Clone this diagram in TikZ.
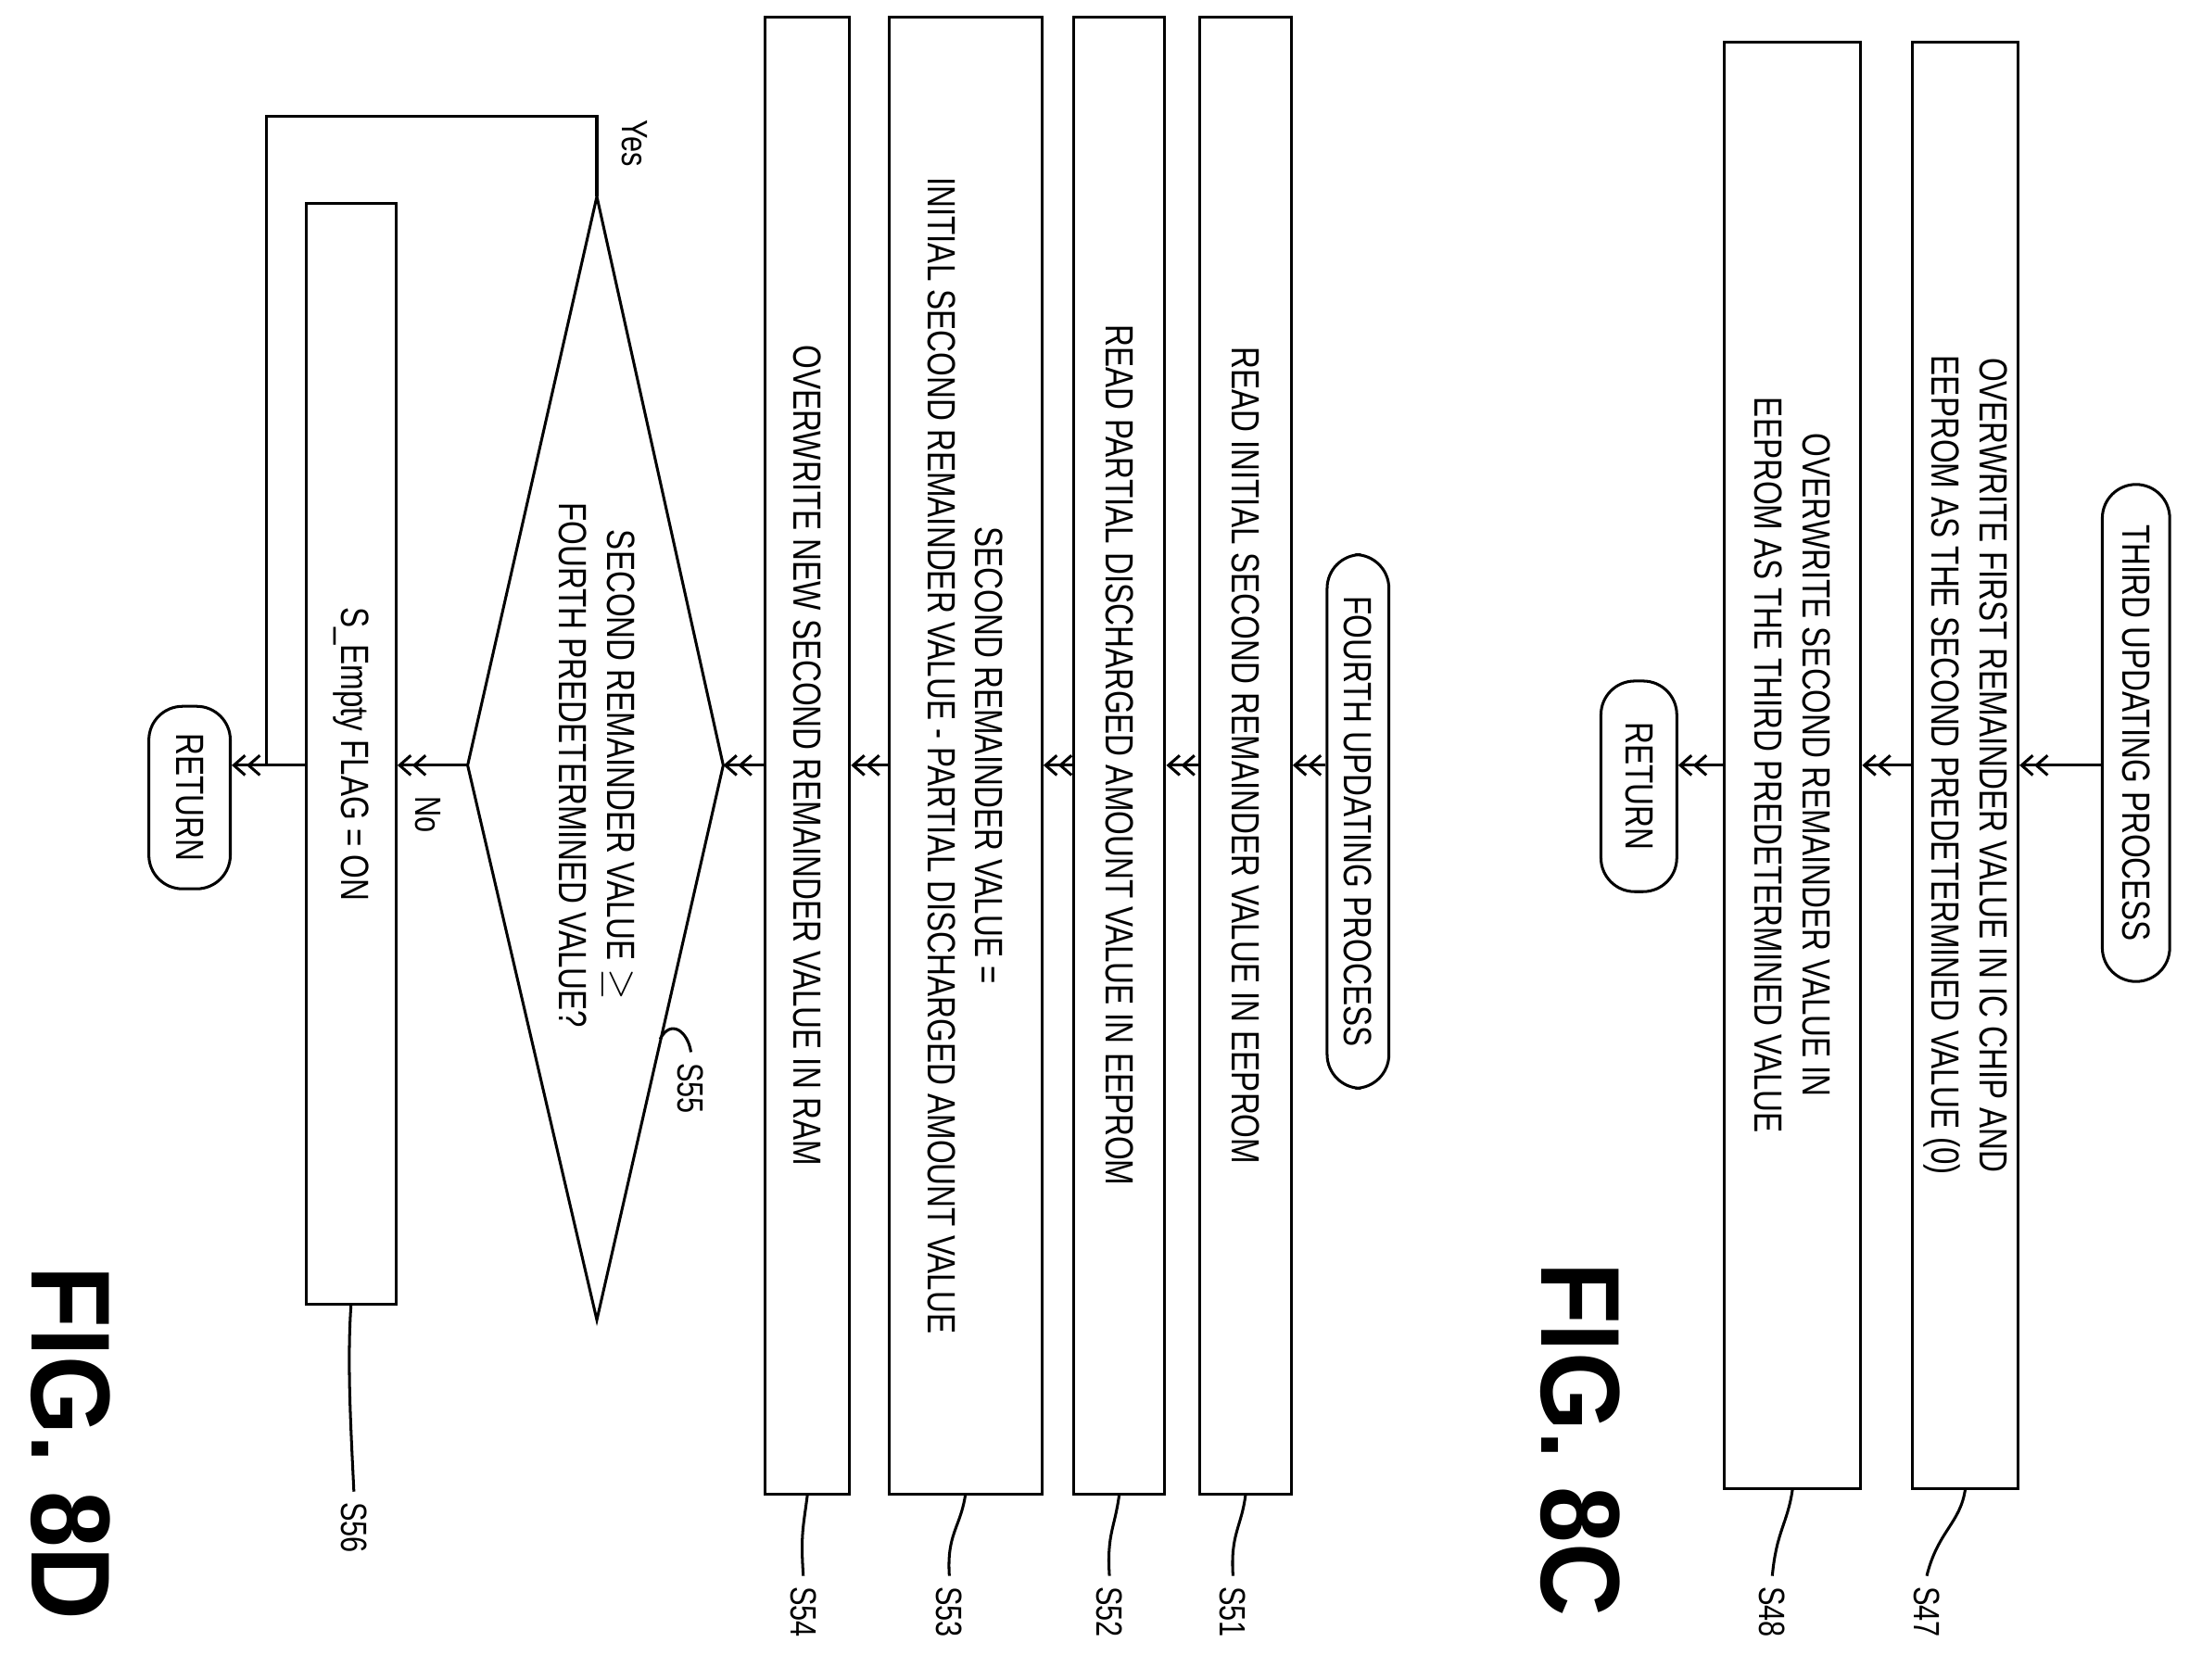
\documentclass[tikz,border=0pt]{standalone}
\usepackage{fontspec}
\setmainfont{Liberation Sans}[FakeStretch=0.78]
\newfontfamily\figfont{Liberation Sans}[FakeStretch=0.9]
\usetikzlibrary{arrows.meta}
\begin{document}
\begin{tikzpicture}[x=0.5pt,y=-0.5pt,line width=1pt,
  txt/.style={font=\fontsize{14}{17}\selectfont,rotate=-90,align=center},
  box/.style={txt,draw,rectangle,inner sep=2pt},
  term/.style={txt,draw,rounded corners=12pt,inner sep=3pt},
  arr/.style={-{Straight Barb[length=4pt,width=7pt]Straight Barb[length=4pt,width=7pt]}},
  lab/.style={font=\fontsize{13}{15}\selectfont,rotate=-90},
  fig/.style={font=\figfont\bfseries\fontsize{40}{44}\selectfont,rotate=-90,inner sep=0pt}]
\useasboundingbox (0,0) rectangle (1568,1196);
% ---- FIG 8C ----
\node[term,minimum width=177pt,minimum height=24pt] (t1) at (1521,522) {THIRD UPDATING PROCESS};
\node[box,minimum width=515pt,minimum height=37.5pt] (s47) at (1399.5,545) {OVERWRITE FIRST REMAINDER VALUE IN IC CHIP AND\\EEPROM AS THE SECOND PREDETERMINED VALUE (0)};
\node[box,minimum width=515pt,minimum height=48.5pt] (s48) at (1276.5,545) {OVERWRITE SECOND REMAINDER VALUE IN\\EEPROM AS THE THIRD PREDETERMINED VALUE};
\node[term,minimum width=75pt,minimum height=27pt] (r1) at (1167,560) {RETURN};
\draw[arr] (t1.south |- 0,545) -- (s47.north);
\draw[arr] (s47.south) -- (s48.north);
\draw[arr] (s48.south) -- (r1.north |- 0,545);
\node[fig] (f8c) at (1125,1025) {FIG. 8C};
\node[lab] (l47) at (1372,1148) {S47};
\node[lab] (l48) at (1262,1148) {S48};
\draw (1399.5,1060) .. controls (1396,1085) and (1380,1090) .. (l47.west);
\draw (1276.5,1060) .. controls (1273,1085) and (1265,1090) .. (l48.west);
% ---- FIG 8D ----
\node[term,minimum width=190pt,minimum height=22pt] (t2) at (967,585) {FOURTH UPDATING PROCESS};
\node[box,minimum width=526pt,minimum height=32.5pt] (s51) at (887,538) {READ INITIAL SECOND REMAINDER VALUE IN EEPROM};
\node[box,minimum width=526pt,minimum height=32.5pt] (s52) at (797,538) {READ PARTIAL DISCHARGED AMOUNT VALUE IN EEPROM};
\node[box,minimum width=526pt,minimum height=54.5pt] (s53) at (687.5,538) {SECOND REMAINDER VALUE =\\INITIAL SECOND REMAINDER VALUE - PARTIAL DISCHARGED AMOUNT VALUE};
\node[box,minimum width=526pt,minimum height=30pt] (s54) at (575,538) {OVERWRITE NEW SECOND REMAINDER VALUE IN RAM};
\coordinate (dR) at (515,545);
\coordinate (dL) at (333,545);
\coordinate (dT) at (425,140);
\coordinate (dB) at (425,940);
\draw (dR) -- (dT) -- (dL) -- (dB) -- cycle;
\node[txt] (s55) at (425,545) {SECOND REMAINDER VALUE $\geq$\\FOURTH PREDETERMINED VALUE?};
\node[box,minimum width=392pt,minimum height=32pt] (s56) at (250,537) {S\_Empty FLAG = ON};
\node[term,minimum width=65pt,minimum height=29pt] (r2) at (135,568) {RETURN};
\draw[arr] (t2.south |- 0,545) -- (s51.north |- 0,545);
\draw[arr] (s51.south |- 0,545) -- (s52.north |- 0,545);
\draw[arr] (s52.south |- 0,545) -- (s53.north |- 0,545);
\draw[arr] (s53.south |- 0,545) -- (s54.north |- 0,545);
\draw[arr] (s54.south |- 0,545) -- (dR);
\draw[arr] (dL) -- (s56.north |- 0,545);
\coordinate (y1) at (425,83);
\coordinate (y2) at (190,83);
\coordinate (y3) at (190,545);
\draw (s56.south |- 0,545) -- (y3);
\draw[arr] (dT) -- (y1) -- (y2) -- (y3) -- (r2.north |- 0,545);
\node[lab] (yes) at (452,102) {Yes};
\node[lab] (no) at (305,580) {No};
\node[fig] (f8d) at (50,1028) {FIG. 8D};
\node[lab] (l51) at (878,1148) {S51};
\node[lab] (l52) at (790,1148) {S52};
\node[lab] (l53) at (676,1148) {S53};
\node[lab] (l54) at (572,1148) {S54};
\node[lab] (l55) at (492,775) {S55};
\node[lab] (l56) at (252,1088) {S56};
\draw (887,1064) .. controls (884,1088) and (876,1092) .. (l51.west);
\draw (797,1064) .. controls (794,1088) and (788,1092) .. (l52.west);
\draw (687.5,1064) .. controls (684,1088) and (674,1092) .. (l53.west);
\draw (575,1064) .. controls (572,1088) and (570,1092) .. (l54.west);
\draw (470,740) .. controls (478,725) and (490,735) .. (l55.west);
\draw (250,929) .. controls (247,970) and (250,1020) .. (l56.west);
\end{tikzpicture}
\end{document}
